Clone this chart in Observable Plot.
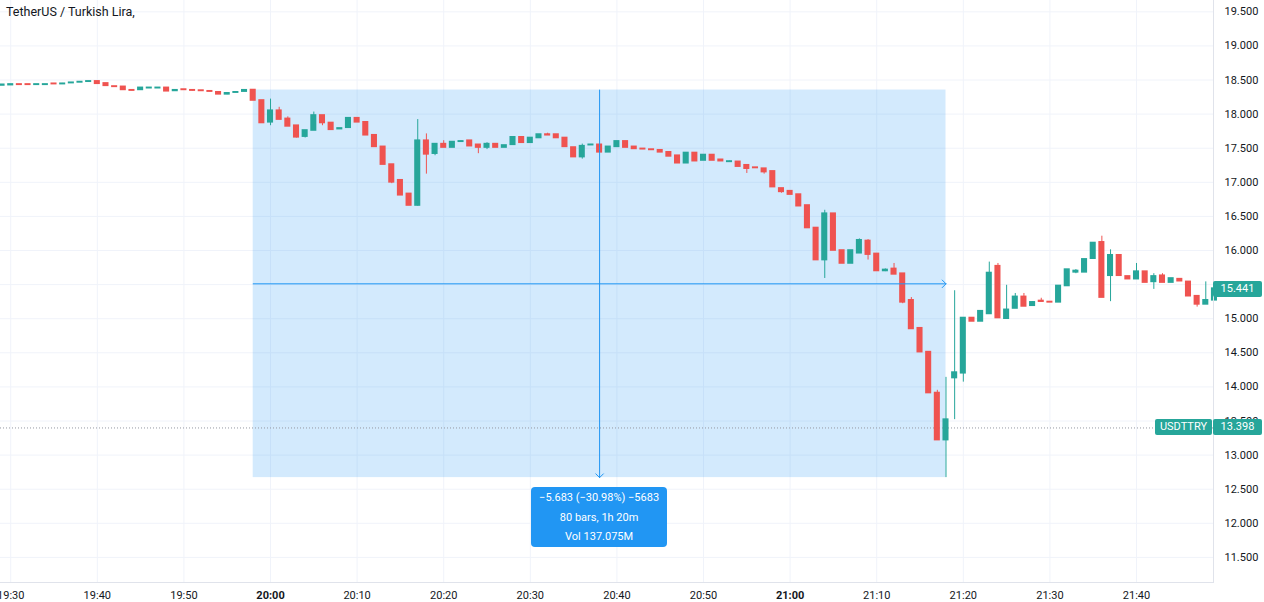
<!DOCTYPE html>
<html>
<head>
<meta charset="utf-8">
<script src="https://cdn.jsdelivr.net/npm/d3@7"></script>
<script src="https://cdn.jsdelivr.net/npm/@observablehq/plot@0.6"></script>
<style>
  html, body { margin: 0; padding: 0; background: #ffffff; }
  #wrap { position: relative; width: 1264px; height: 602px; overflow: hidden; font-family: Roboto, "Noto Sans", sans-serif; }
  #wrap svg { display: block; }
  .title { position: absolute; left: 6px; top: 4px; font-size: 12.5px; color: #131722; white-space: nowrap; }
  .tag { position: absolute; height: 16px; line-height: 16px; font-size: 11px; color: #ffffff; background: #26a69a; text-align: center; border-radius: 2px; }
  .tip { position: absolute; width: 136px; height: 60px; background: #2196f3; border-radius: 4px; color: #ffffff; font-size: 11px; line-height: 19.5px; text-align: center; padding-top: 1px; box-sizing: border-box; }
</style>
</head>
<body>
<div id="wrap"></div>
<script>
// ---- data: 1-minute bars, first bar at 19:29 (minute offsets relative to 20:00) ----
const firstMinute = -31;
const opens = [
  18.42, 18.425, 18.435, 18.435, 18.43, 18.43, 18.445, 18.44, 18.455, 18.465,
  18.475, 18.48, 18.45, 18.405, 18.40, 18.35, 18.355, 18.38, 18.38, 18.385,
  18.34, 18.36, 18.35, 18.345, 18.335, 18.32, 18.29, 18.315, 18.33, 18.353,
  18.20, 17.88, 18.05, 17.93, 17.83, 17.67, 17.76, 17.98, 17.87, 17.78,
  17.80, 17.94, 17.88, 17.69, 17.52, 17.26, 17.03, 16.83, 16.66, 17.61,
  17.42, 17.56, 17.51, 17.595, 17.61, 17.55, 17.51, 17.56, 17.51, 17.55,
  17.66, 17.58, 17.65, 17.70, 17.70, 17.65, 17.51, 17.37, 17.545, 17.55,
  17.44, 17.52, 17.60, 17.52, 17.49, 17.48, 17.47, 17.44, 17.39, 17.28,
  17.43, 17.32, 17.40, 17.33, 17.30, 17.30, 17.25, 17.215, 17.20, 17.16,
  16.91, 16.87, 16.82, 16.66, 16.33, 15.86, 16.54, 16.00, 15.81, 15.96,
  16.14, 15.95, 15.70, 15.73, 15.66, 15.27, 14.86, 14.51, 13.91, 13.22,
  14.13, 14.20, 15.01, 14.96, 15.07, 15.77, 15.00, 15.15, 15.32, 15.19,
  15.26, 15.245, 15.24, 15.48, 15.68, 15.68, 15.88, 16.12, 15.63, 15.93,
  15.62, 15.58, 15.69, 15.54, 15.63, 15.53, 15.58, 15.54, 15.33, 15.21,
  15.27
];
const highs = [
  18.43, 18.435, 18.435, 18.435, 18.435, 18.435, 18.445, 18.45, 18.46, 18.47,
  18.48, 18.485, 18.45, 18.405, 18.40, 18.35, 18.385, 18.39, 18.39, 18.39,
  18.355, 18.36, 18.35, 18.345, 18.335, 18.325, 18.305, 18.325, 18.35, 18.355,
  18.20, 18.22, 18.10, 17.96, 17.83, 17.76, 18.03, 17.98, 17.87, 17.79,
  17.94, 17.95, 17.88, 17.69, 17.52, 17.26, 17.03, 16.83, 17.92, 17.71,
  17.56, 17.61, 17.59, 17.605, 17.61, 17.55, 17.58, 17.56, 17.54, 17.66,
  17.66, 17.65, 17.70, 17.72, 17.70, 17.65, 17.51, 17.56, 17.555, 17.55,
  17.52, 17.60, 17.60, 17.52, 17.49, 17.48, 17.47, 17.44, 17.39, 17.43,
  17.43, 17.40, 17.40, 17.33, 17.31, 17.30, 17.25, 17.215, 17.20, 17.16,
  16.91, 16.87, 16.82, 16.66, 16.33, 16.59, 16.54, 16.00, 16.00, 16.17,
  16.16, 15.95, 15.73, 15.81, 15.66, 15.31, 14.86, 14.51, 13.95, 14.14,
  15.41, 15.01, 15.01, 15.11, 15.83, 15.81, 15.49, 15.37, 15.37, 15.25,
  15.30, 15.25, 15.48, 15.72, 15.72, 15.87, 16.11, 16.21, 16.01, 15.93,
  15.62, 15.81, 15.69, 15.66, 15.66, 15.59, 15.58, 15.54, 15.33, 15.54,
  15.50
];
const lows = [
  18.42, 18.425, 18.425, 18.425, 18.43, 18.43, 18.435, 18.44, 18.455, 18.465,
  18.475, 18.445, 18.415, 18.395, 18.35, 18.34, 18.355, 18.38, 18.38, 18.335,
  18.335, 18.35, 18.34, 18.335, 18.325, 18.29, 18.285, 18.315, 18.33, 18.20,
  17.87, 17.83, 17.92, 17.82, 17.65, 17.65, 17.76, 17.83, 17.77, 17.78,
  17.80, 17.88, 17.69, 17.52, 17.26, 16.98, 16.81, 16.66, 16.65, 17.12,
  17.39, 17.51, 17.51, 17.59, 17.53, 17.42, 17.48, 17.51, 17.51, 17.55,
  17.58, 17.58, 17.65, 17.69, 17.65, 17.52, 17.37, 17.34, 17.545, 17.44,
  17.44, 17.52, 17.51, 17.49, 17.48, 17.47, 17.44, 17.38, 17.28, 17.28,
  17.31, 17.32, 17.32, 17.31, 17.30, 17.23, 17.13, 17.205, 17.12, 16.93,
  16.84, 16.82, 16.65, 16.33, 15.86, 15.59, 16.00, 15.81, 15.81, 15.96,
  15.86, 15.70, 15.69, 15.65, 15.22, 14.85, 14.51, 13.91, 13.22, 12.67,
  13.52, 14.07, 14.96, 14.96, 15.07, 15.01, 15.00, 15.15, 15.18, 15.19,
  15.25, 15.24, 15.24, 15.48, 15.66, 15.68, 15.88, 15.31, 15.25, 15.63,
  15.58, 15.58, 15.53, 15.43, 15.53, 15.53, 15.55, 15.33, 15.17, 15.21,
  15.27
];
const closes = [
  18.43, 18.435, 18.43, 18.43, 18.435, 18.435, 18.44, 18.445, 18.46, 18.47,
  18.48, 18.445, 18.415, 18.40, 18.355, 18.345, 18.385, 18.385, 18.385, 18.335,
  18.35, 18.355, 18.345, 18.34, 18.33, 18.29, 18.305, 18.32, 18.35, 18.20,
  17.87, 18.05, 17.92, 17.82, 17.66, 17.76, 17.98, 17.87, 17.77, 17.79,
  17.94, 17.88, 17.69, 17.52, 17.26, 17.00, 16.81, 16.66, 17.61, 17.41,
  17.56, 17.51, 17.59, 17.60, 17.53, 17.51, 17.56, 17.51, 17.54, 17.66,
  17.58, 17.65, 17.70, 17.69, 17.65, 17.52, 17.37, 17.53, 17.55, 17.44,
  17.52, 17.60, 17.51, 17.49, 17.485, 17.475, 17.44, 17.38, 17.28, 17.43,
  17.31, 17.40, 17.32, 17.31, 17.305, 17.23, 17.20, 17.21, 17.15, 16.93,
  16.86, 16.82, 16.65, 16.33, 15.86, 16.54, 16.00, 15.81, 16.00, 16.15,
  15.94, 15.70, 15.715, 15.65, 15.24, 14.85, 14.51, 13.91, 13.22, 13.52,
  14.21, 15.01, 14.96, 15.11, 15.67, 15.01, 15.13, 15.32, 15.18, 15.24,
  15.25, 15.24, 15.48, 15.72, 15.70, 15.87, 16.11, 15.31, 15.93, 15.63,
  15.58, 15.69, 15.53, 15.62, 15.53, 15.59, 15.55, 15.33, 15.21, 15.27,
  15.441
];

// axis ticks (15.500 label is hidden behind the last-price tag in the original)
const yGrid = [11.5, 12, 12.5, 13, 13.5, 14, 14.5, 15, 15.5, 16, 16.5, 17, 17.5, 18, 18.5, 19, 19.5];
const yTickLabels = [11.5, 12, 12.5, 13, 13.5, 14, 14.5, 15, 16, 16.5, 17, 17.5, 18, 18.5, 19, 19.5];
const xTickMinutes = [-30, -20, -10, 0, 10, 20, 30, 40, 50, 60, 70, 80, 90, 100];
const xTickLabels = ["19:30", "19:40", "19:50", "20:00", "20:10", "20:20", "20:30", "20:40", "20:50", "21:00", "21:10", "21:20", "21:30", "21:40"];
const boldLabels = ["20:00", "21:00"];

// measurement tool (price range)
const measureStartMinute = -2;
const measureEndMinute = 78;
const measureHigh = 18.353;
const measureLow = 12.67;
const measureLines = ["\u22125.683 (\u221230.98%) \u22125683", "80 bars, 1h 20m", "Vol 137.075M"];

// price lines
const lastPrice = 15.441;
const otherSymbol = "USDTTRY";
const otherPrice = 13.398;
const titleText = "TetherUS / Turkish Lira,";

// ---- build ----
const up = "#26a69a", down = "#ef5350";
const bars = opens.map((o, i) => ({ t: firstMinute + i, o, h: highs[i], l: lows[i], c: closes[i] }));
const colorOf = d => (d.c >= d.o ? up : down);
const labelOf = new Map(xTickMinutes.map((m, i) => [m, xTickLabels[i]]));
const normalTicks = xTickMinutes.filter(m => !boldLabels.includes(labelOf.get(m)));
const boldTicks = xTickMinutes.filter(m => boldLabels.includes(labelOf.get(m)));
const measure = [{ x1: measureStartMinute, x2: measureEndMinute, y1: measureHigh, y2: measureLow }];
const midPrice = (measureHigh + measureLow) / 2;
const midMinute = (measureStartMinute + measureEndMinute) / 2;
const half = 0.35;

const plot = Plot.plot({
  width: 1264,
  height: 602,
  marginLeft: 0,
  marginRight: 51,
  marginTop: 0,
  marginBottom: 20,
  x: { domain: [-31.18, 108.89], axis: null },
  y: { domain: [11.132, 19.666], axis: null },
  style: { fontFamily: "Roboto, 'Noto Sans', sans-serif", fontSize: "11px", color: "#131722", background: "#ffffff" },
  marks: [
    Plot.ruleY(yGrid, { stroke: "#f0f3fa", strokeWidth: 1 }),
    Plot.ruleX(xTickMinutes, { stroke: "#f0f3fa", strokeWidth: 1 }),
    Plot.rect(measure, { x1: "x1", x2: "x2", y1: "y1", y2: "y2", fill: "#2196f3", fillOpacity: 0.2 }),
    Plot.ruleY([otherPrice], { stroke: "#9598a1", strokeDasharray: "1,2" }),
    Plot.ruleX(bars, { x: "t", y1: "l", y2: "h", stroke: colorOf, strokeWidth: 1 }),
    Plot.rect(bars, {
      x1: d => d.t - half, x2: d => d.t + half,
      y1: d => Math.min(d.o, d.c), y2: d => Math.max(d.o, d.c),
      fill: colorOf, insetTop: -0.8, insetBottom: -0.8
    }),
    Plot.arrow(measure, { x1: "x1", x2: "x2", y1: () => midPrice, y2: () => midPrice, stroke: "#2196f3", strokeWidth: 1, headLength: 8, headAngle: 90 }),
    Plot.arrow(measure, { x1: () => midMinute, x2: () => midMinute, y1: "y1", y2: "y2", stroke: "#2196f3", strokeWidth: 1, headLength: 8, headAngle: 90 }),
    Plot.frame({ anchor: "right", stroke: "#e0e3eb" }),
    Plot.frame({ anchor: "bottom", stroke: "#e0e3eb" }),
    Plot.axisY(yTickLabels, { anchor: "right", tickSize: 0, tickPadding: 11, tickFormat: d => d.toFixed(3), fill: "#131722", fontSize: 11 }),
    Plot.axisX(normalTicks, { anchor: "bottom", tickSize: 0, tickPadding: 9, tickFormat: d => labelOf.get(d), fill: "#131722", fontSize: 11 }),
    Plot.axisX(boldTicks, { anchor: "bottom", tickSize: 0, tickPadding: 9, tickFormat: d => labelOf.get(d), fill: "#131722", fontSize: 11, fontWeight: "bold" })
  ]
});

const wrap = document.getElementById("wrap");
wrap.appendChild(plot);
const sx = plot.scale("x"), sy = plot.scale("y");
const frameRight = sx.apply(108.89);

function addDiv(cls, text, style) {
  const d = document.createElement("div");
  d.className = cls;
  d.textContent = text;
  Object.assign(d.style, style);
  wrap.appendChild(d);
  return d;
}

addDiv("title", titleText, {});
addDiv("tag", lastPrice.toFixed(3), { left: frameRight + "px", width: "49px", top: (sy.apply(lastPrice) - 7) + "px" });
addDiv("tag", otherSymbol, { left: (frameRight - 58) + "px", width: "57px", top: (sy.apply(otherPrice) - 8) + "px" });
addDiv("tag", otherPrice.toFixed(3), { left: frameRight + "px", width: "49px", top: (sy.apply(otherPrice) - 8) + "px" });

const tip = document.createElement("div");
tip.className = "tip";
tip.style.left = (sx.apply(midMinute) - 68) + "px";
tip.style.top = (sy.apply(measureLow) + 10) + "px";
measureLines.forEach(t => { const line = document.createElement("div"); line.textContent = t; tip.appendChild(line); });
wrap.appendChild(tip);
</script>
</body>
</html>
